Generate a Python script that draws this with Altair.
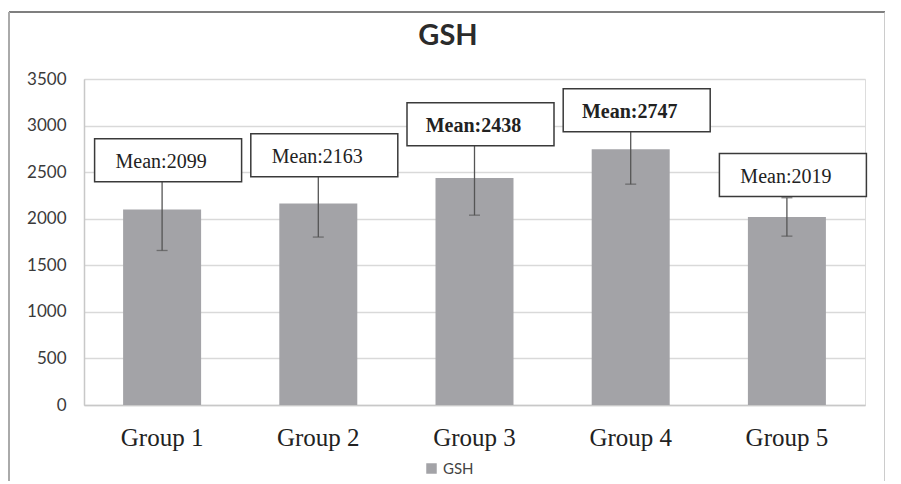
import altair as alt
import pandas as pd

groups = ["Group 1", "Group 2", "Group 3", "Group 4", "Group 5"]
means = [2099, 2163, 2438, 2747, 2019]
errors = [440, 360, 400, 376, 206]
label_y = [2629, 2682, 3015, 3165, 2468]
series_name = ["GSH"]
title_text = ["GSH"]
bold_groups = ["Group 3", "Group 4"]
y_ticks = [0, 500, 1000, 1500, 2000, 2500, 3000, 3500]

df = pd.DataFrame({
    "group": groups,
    "mean": means,
    "low": [m - e for m, e in zip(means, errors)],
    "high": [m + e for m, e in zip(means, errors)],
    "label_y": label_y,
    "label": [f"Mean:{m}" for m in means],
    "series": series_name * len(groups),
})

BAR = "#a3a3a7"
SANS = "Lato"
SERIF = "Liberation Serif"

x = alt.X("group:N", sort=groups, title=None,
          scale=alt.Scale(paddingInner=0.5, paddingOuter=0.25),
          axis=alt.Axis(labelAngle=0, labelFont=SERIF, labelFontSize=25,
                        labelColor="#222222", labelPadding=20, ticks=False,
                        domain=True, domainColor="#c8c8c8", domainWidth=1.5))
yscale = alt.Scale(domain=[0, 3500], nice=False)

base = alt.Chart(df)

bars = base.mark_bar(size=78).encode(
    x=x,
    y=alt.Y("mean:Q", scale=yscale, title=None,
            axis=alt.Axis(values=y_ticks, format="d", labelFont=SANS, labelFontSize=17,
                          labelColor="#3a3a3a", labelPadding=18, ticks=False,
                          grid=True, gridColor="#d9d9d9", gridWidth=1.5,
                          domain=True, domainColor="#c8c8c8", domainWidth=1.5)),
    color=alt.Color("series:N", scale=alt.Scale(range=[BAR]),
                    legend=alt.Legend(title=None, orient="none", legendX=340, legendY=382,
                                      symbolType="square", symbolSize=110,
                                      symbolStrokeWidth=0, labelFont=SANS,
                                      labelFontSize=15, labelColor="#444444")),
)

err = base.mark_rule(color="#555555", strokeWidth=1.3).encode(
    x=alt.X("group:N", sort=groups),
    y=alt.Y("low:Q", scale=yscale),
    y2="high:Q",
)
cap_low = base.mark_tick(color="#555555", size=11, thickness=1.3).encode(
    x=alt.X("group:N", sort=groups),
    y=alt.Y("low:Q", scale=yscale),
)
cap_high = base.mark_tick(color="#555555", size=11, thickness=1.3).encode(
    x=alt.X("group:N", sort=groups),
    y=alt.Y("high:Q", scale=yscale),
)

box_path = "M-1,-0.2925L1,-0.2925L1,0.2925L-1,0.2925Z"
boxes = base.mark_point(shape=box_path, size=147 * 147, filled=False,
                        fill="white", fillOpacity=1, stroke="#3a3a3a",
                        strokeWidth=1.5, opacity=1, xOffset=6).encode(
    x=alt.X("group:N", sort=groups),
    y=alt.Y("label_y:Q", scale=yscale),
)

bold_pred = alt.FieldOneOfPredicate(field="group", oneOf=bold_groups)
labels_normal = base.mark_text(font=SERIF, fontSize=20, color="#222222",
                               baseline="middle", dx=-1, dy=2).encode(
    x=alt.X("group:N", sort=groups),
    y=alt.Y("label_y:Q", scale=yscale),
    text="label:N",
).transform_filter(~bold_pred)
labels_bold = base.mark_text(font=SERIF, fontSize=20, color="#222222", fontWeight="bold",
                             baseline="middle", dx=-1, dy=2).encode(
    x=alt.X("group:N", sort=groups),
    y=alt.Y("label_y:Q", scale=yscale),
    text="label:N",
).transform_filter(bold_pred)

frame_df = pd.DataFrame({"k": [1]})
title_df = pd.DataFrame({"t": title_text})
title = alt.Chart(title_df).mark_text(font=SANS, fontSize=29, fontWeight="bold",
                                      color="#2b2b2b", baseline="alphabetic",
                                      align="center").encode(
    x=alt.value(364), y=alt.value(-34), text="t:N")
frame_top = alt.Chart(frame_df).mark_rule(color="#555555", strokeWidth=1.5).encode(
    x=alt.value(-75), x2=alt.value(801), y=alt.value(-67))
frame_left = alt.Chart(frame_df).mark_rule(color="#aaaaaa", strokeWidth=2).encode(
    x=alt.value(-75), y=alt.value(-67), y2=alt.value(420))
frame_right = alt.Chart(frame_df).mark_rule(color="#bbbbbb", strokeWidth=1.5).encode(
    x=alt.value(801), y=alt.value(-67), y2=alt.value(420))

chart = alt.layer(bars, err, cap_low, cap_high, boxes, labels_normal, labels_bold,
                  title, frame_top, frame_left, frame_right).properties(
    width=781, height=326,
    autosize=alt.AutoSizeParams(type="none"),
    padding={"left": 76, "top": 71, "right": 20, "bottom": 76},
).configure_view(stroke=None).configure(background="white")

chart.save("out.html", embed_options={"renderer": "svg", "actions": False})
